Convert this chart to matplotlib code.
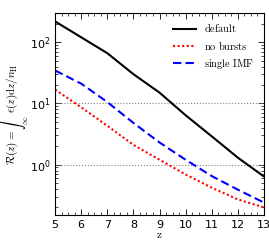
import matplotlib
matplotlib.use('Agg')
import matplotlib.pyplot as plt
from matplotlib.ticker import MultipleLocator

z = [5, 6, 7, 8, 9, 10, 11, 12, 13]
default = [218, 120, 66, 30, 15, 6.4, 2.9, 1.3, 0.64]
no_bursts = [16.8, 8.6, 4.3, 2.1, 1.2, 0.69, 0.42, 0.27, 0.2]
single_imf = [34.4, 21, 10.5, 4.8, 2.3, 1.2, 0.65, 0.39, 0.24]

fig = plt.figure(figsize=(2.69, 2.40), dpi=100)
ax = fig.add_axes([0.205, 0.104, 0.776, 0.842])

ax.axhline(1, color='grey', ls=':', lw=0.8)
ax.axhline(10, color='grey', ls=':', lw=0.8)

ax.plot(z, default, color='black', lw=1.5, label=r'$\rm default$')
ax.plot(z, no_bursts, color='red', lw=1.5, ls=(0, (1, 1.2)), label=r'$\rm no\ bursts$')
ax.plot(z, single_imf, color='blue', lw=1.5, ls=(0, (4, 2)), label=r'$\rm single\ IMF$')

ax.set_yscale('log')
ax.set_xlim(5, 13)
ax.set_ylim(0.15, 300)
ax.xaxis.set_major_locator(MultipleLocator(1))
ax.xaxis.set_minor_locator(MultipleLocator(0.25))
ax.tick_params(which='both', direction='in', top=True, right=True, labelsize=8)
ax.tick_params(which='major', length=4, width=0.6)
ax.tick_params(which='minor', length=2, width=0.5)
for s in ax.spines.values():
    s.set_linewidth(0.8)

ax.set_xlabel(r'$\rm z$', fontsize=8, labelpad=0, math_fontfamily='cm')
ax.set_ylabel(r'$\mathcal{R}(z)=\int_\infty^z \epsilon(z){\rm d}z/n_{\rm H}$',
              fontsize=8, math_fontfamily='cm')
ax.yaxis.set_label_coords(-0.115, 0.5)

leg = ax.legend(loc='upper right', frameon=False, handlelength=2.2,
                prop={'size': 7.5, 'math_fontfamily': 'cm'})

fig.savefig('out.png', dpi=100)
